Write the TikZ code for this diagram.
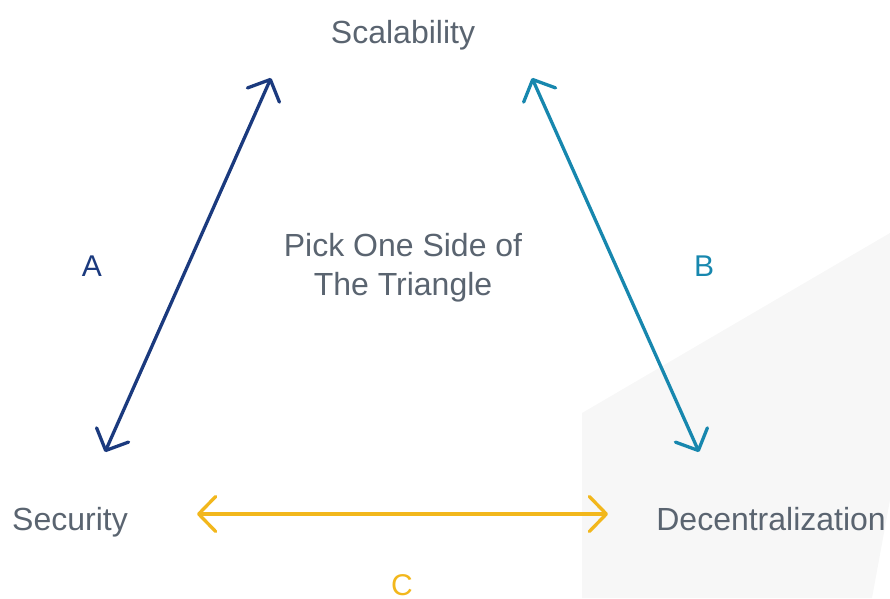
\documentclass[tikz,border=0pt]{standalone}
\usepackage{fontspec}
\setmainfont{Liberation Sans}
\usetikzlibrary{arrows.meta}
\definecolor{txt}{HTML}{5A6470}
\definecolor{navy}{HTML}{1B3A7E}
\definecolor{teal}{HTML}{1787AE}
\definecolor{gold}{HTML}{F2B71C}
\definecolor{bgpoly}{HTML}{F7F7F7}
\begin{document}
\begin{tikzpicture}[x=1pt,y=-1pt,
  lbl/.style={text=txt,font=\fontsize{32}{39}\selectfont,inner sep=0pt,anchor=base},
  side/.style={font=\fontsize{30}{36}\selectfont,inner sep=0pt,anchor=base},
  arr/.style={line width=3.3pt,line cap=round,line join=round,
    {Straight Barb[length=17pt,width=35pt,line cap=round,line join=round]}-{Straight Barb[length=17pt,width=35pt,line cap=round,line join=round]}}]
\useasboundingbox (0,0) rectangle (890,598);
\fill[bgpoly] (582,413) -- (890,233) -- (890,500) -- (872,598) -- (582,598) -- cycle;
\node[lbl] (scal) at (403,43) {Scalability};
\node[lbl] (pick1) at (403,256) {Pick One Side of};
\node[lbl] (pick2) at (403,295) {The Triangle};
\node[lbl,anchor=base west] (sec) at (12,530) {Security};
\node[lbl,anchor=base east] (dec) at (886,530) {Decentralization};
\node[side,text=navy] (la) at (92,276) {A};
\node[side,text=teal] (lb) at (704,276) {B};
\node[side,text=gold] (lc) at (402,595) {C};
\coordinate (a1) at (105,452);
\coordinate (a2) at (271,78);
\coordinate (b1) at (532,78);
\coordinate (b2) at (699,452);
\coordinate (c1) at (197,514);
\coordinate (c2) at (608,514);
\draw[arr,navy] (a1) -- (a2);
\draw[arr,teal] (b1) -- (b2);
\draw[arr,gold] (c1) -- (c2);
\end{tikzpicture}
\end{document}
